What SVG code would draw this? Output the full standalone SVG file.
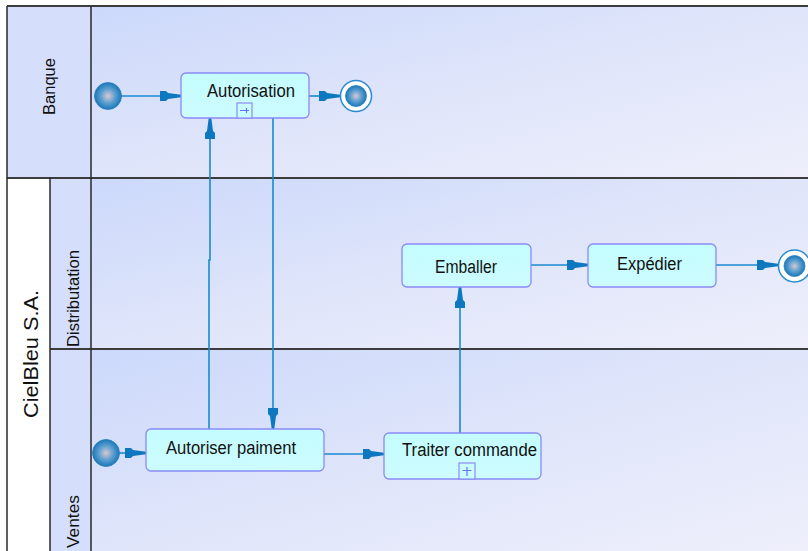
<svg xmlns="http://www.w3.org/2000/svg" width="808" height="551" viewBox="0 0 808 551">
<defs>
<linearGradient id="laneG" x1="0" y1="0" x2="1" y2="1">
<stop offset="0" stop-color="#ccd9fb"/>
<stop offset="0.5" stop-color="#dfe5fa"/>
<stop offset="1" stop-color="#eeeffb"/>
</linearGradient>
<linearGradient id="nodeG" x1="0" y1="0" x2="0" y2="1">
<stop offset="0" stop-color="#c4fdff"/>
<stop offset="1" stop-color="#ccfbff"/>
</linearGradient>
<radialGradient id="ballG" cx="0.5" cy="0.5" r="0.5">
<stop offset="0" stop-color="#d8c8d0"/>
<stop offset="0.55" stop-color="#5a9ed0"/>
<stop offset="1" stop-color="#1a78b8"/>
</radialGradient>
<marker id="arr" markerUnits="userSpaceOnUse" markerWidth="24" markerHeight="12" viewBox="0 -6 22 12" refX="21" refY="0" orient="auto">
<path d="M0,-5 L6,-5 L8,-3 L21,-1.3 L21,1.3 L8,3 L6,5 L0,5 Z" fill="#0d78c0"/>
</marker>
</defs>
<style>
.lane{fill:url(#laneG);}
.hdr{fill:#d5dffb;}
.sep{stroke:#3c3c3c;stroke-width:2;fill:none;}
.sepv{stroke:#2a2a2a;stroke-width:1.5;fill:none;}
.act{fill:url(#nodeG);stroke:#8a8af5;stroke-width:1.3;}
.txt{font-family:"Liberation Sans",Arial,sans-serif;fill:#111;}
.conn{stroke:#1a8ad0;stroke-width:1.6;fill:none;marker-end:url(#arr);}
.ball{fill:url(#ballG);stroke:#2a7fc0;stroke-width:0.8;}
.ring{fill:#ffffff;stroke:#2a8ad0;stroke-width:1.5;}
.sub{fill:#c8feff;stroke:#8a8af5;stroke-width:1.2;}
.subm{stroke:#7070e8;stroke-width:1.2;fill:none;}
</style>

<g id="swimlanes">
<rect class="lane" x="91" y="6" width="717" height="172"/>
<rect class="lane" x="91" y="178" width="717" height="171"/>
<rect class="lane" x="91" y="349" width="717" height="202"/>
<rect class="hdr" x="7" y="6" width="84" height="172"/>
<rect x="7" y="178" width="43" height="373" fill="#ffffff"/>
<rect class="hdr" x="50" y="178" width="41" height="171"/>
<rect class="hdr" x="50" y="349" width="41" height="202"/>
<path class="sep" d="M7,6 H808 M7,178 H808 M50,349 H808"/>
<path class="sepv" d="M7,6 V551 M91,6 V551 M50,178 V551"/>
<text class="txt" font-size="16" textLength="57" lengthAdjust="spacingAndGlyphs" transform="translate(55,115) rotate(-90)">Banque</text>
<text class="txt" font-size="21" textLength="128" lengthAdjust="spacingAndGlyphs" transform="translate(38,418) rotate(-90)">CielBleu S.A.</text>
<text class="txt" font-size="17" textLength="97" lengthAdjust="spacingAndGlyphs" transform="translate(79,347) rotate(-90)">Distributation</text>
<text class="txt" font-size="17" textLength="53" lengthAdjust="spacingAndGlyphs" transform="translate(79,548) rotate(-90)">Ventes</text>
</g>

<g id="connectors">
<path class="conn" d="M121,96 H181"/>
<path class="conn" d="M309,96 H340"/>
<path class="conn" d="M209,429 V260 H210 V118"/>
<path class="conn" d="M273,118 V429"/>
<path class="conn" d="M119,453 H146"/>
<path class="conn" d="M324,454 H384"/>
<path class="conn" d="M460,433 V287"/>
<path class="conn" d="M531,265 H588"/>
<path class="conn" d="M716,265 H778"/>
</g>

<g id="start_banque">
<circle class="ball" cx="108" cy="96" r="13.5"/>
</g>
<g id="autorisation">
<rect class="act" x="181" y="73" width="128" height="45" rx="5"/>
<text class="txt" x="207" y="96.5" font-size="18" textLength="88" lengthAdjust="spacingAndGlyphs">Autorisation</text>
<rect class="sub" x="237" y="103" width="15" height="15"/>
<path class="subm" d="M240,110.5 H249 M246.5,108 V113"/>
</g>
<g id="end_banque">
<circle class="ring" cx="356" cy="96" r="15.5"/>
<circle class="ball" cx="356" cy="96" r="10.5"/>
</g>

<g id="emballer">
<rect class="act" x="402" y="244" width="129" height="43" rx="5"/>
<text class="txt" x="435" y="273" font-size="18" textLength="62" lengthAdjust="spacingAndGlyphs">Emballer</text>
</g>
<g id="expedier">
<rect class="act" x="588" y="244" width="128" height="43" rx="5"/>
<text class="txt" x="617" y="270" font-size="18" textLength="65" lengthAdjust="spacingAndGlyphs">Expédier</text>
</g>
<g id="end_distribution">
<circle class="ring" cx="794.5" cy="266" r="16"/>
<circle class="ball" cx="794.5" cy="266" r="10.5"/>
</g>

<g id="start_ventes">
<circle class="ball" cx="106" cy="453" r="13.5"/>
</g>
<g id="autoriser_paiment">
<rect class="act" x="146" y="429" width="178" height="42" rx="5"/>
<text class="txt" x="166" y="454" font-size="18" textLength="130" lengthAdjust="spacingAndGlyphs">Autoriser paiment</text>
</g>
<g id="traiter_commande">
<rect class="act" x="384" y="433" width="157" height="46" rx="5"/>
<text class="txt" x="402" y="456" font-size="18" textLength="135" lengthAdjust="spacingAndGlyphs">Traiter commande</text>
<rect class="sub" x="459" y="463" width="16" height="16"/>
<path class="subm" d="M462.5,470.5 H471.5 M467,467 V476"/>
</g>
</svg>
